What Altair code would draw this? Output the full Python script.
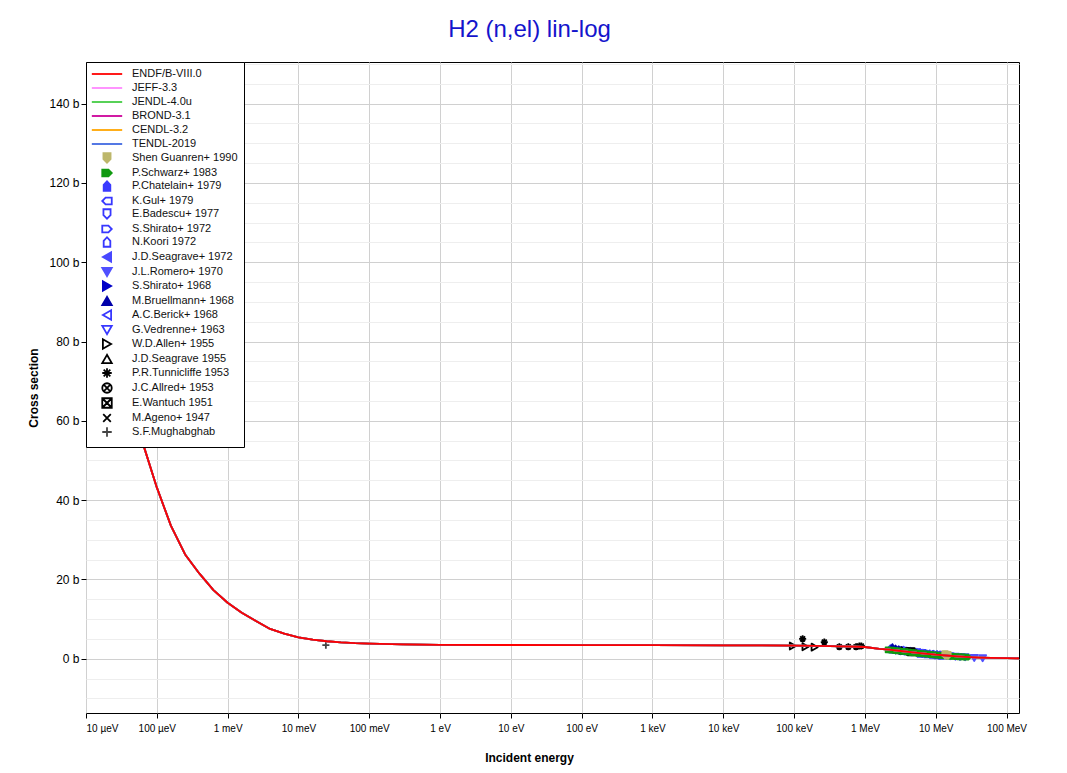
import altair as alt
import pandas as pd

# ---------------- data ----------------
# evaluated curves (energy in eV, cross section in b)
curve_E = [1e-5, 1.585e-5, 2.512e-5, 3.981e-5, 6.31e-5, 1e-4, 1.585e-4, 2.512e-4,
           3.981e-4, 6.31e-4, 1e-3, 1.585e-3, 2.512e-3, 3.981e-3, 6.31e-3, 1e-2,
           1.585e-2, 2.512e-2, 3.981e-2, 6.31e-2, 0.1, 0.3, 1, 10, 100, 1e3, 1e4,
           1e5, 2e5, 5e5, 1e6, 1.6e6, 2.2e6, 3e6, 4.75e6, 7e6, 1e7, 1.4e7, 2e7,
           3e7, 4.2e7, 6e7, 1e8, 1.5e8]
curve_S = [136, 107.5, 86, 68.5, 54.5, 43.2, 33.5, 26.3,
           21.5, 17.3, 14.1, 11.6, 9.5, 7.5, 6.3, 5.4,
           4.8, 4.4, 4.1, 3.9, 3.8, 3.6, 3.5, 3.45, 3.42, 3.4, 3.38,
           3.3, 3.25, 3.1, 2.95, 2.5, 2.27, 2.0, 1.6, 1.3, 1.0, 0.8, 0.6,
           0.4, 0.28, 0.2, 0.12, 0.1]

libraries = ["ENDF/B-VIII.0", "JEFF-3.3", "JENDL-4.0u", "BROND-3.1", "CENDL-3.2", "TENDL-2019"]
lib_colors = ["#ff0000", "#ff88ff", "#44cc44", "#cc0099", "#ffa500", "#4169e1"]

# experimental data sets: name -> (energies eV, cross sections b)
exp_names = ["Shen Guanren+ 1990", "P.Schwarz+ 1983", "P.Chatelain+ 1979", "K.Gul+ 1979",
             "E.Badescu+ 1977", "S.Shirato+ 1972", "N.Koori 1972", "J.D.Seagrave+ 1972",
             "J.L.Romero+ 1970", "S.Shirato+ 1968", "M.Bruellmann+ 1968", "A.C.Berick+ 1968",
             "G.Vedrenne+ 1963", "W.D.Allen+ 1955", "J.D.Seagrave 1955", "P.R.Tunnicliffe 1953",
             "J.C.Allred+ 1953", "E.Wantuch 1951", "M.Ageno+ 1947", "S.F.Mughabghab"]

shen_E = [13.5e6, 14.2e6, 14.9e6]
shen_S = [1.0, 0.9, 0.85]
schwarz_E = [2.2e6, 2.5e6, 2.8e6, 3.1e6, 3.5e6, 3.9e6, 4.3e6, 4.8e6, 5.3e6, 5.9e6, 6.5e6,
             7.2e6, 8.0e6, 8.9e6, 9.9e6, 11.0e6, 12.2e6, 13.5e6, 15.0e6, 16.6e6, 18.4e6,
             20.4e6, 22.6e6, 25.0e6, 28.0e6]
schwarz_S = [2.25, 2.15, 2.05, 1.95, 1.85, 1.75, 1.65, 1.55, 1.45, 1.35, 1.28,
             1.2, 1.12, 1.05, 0.98, 0.9, 0.83, 0.76, 0.7, 0.64, 0.58,
             0.52, 0.47, 0.43, 0.38]
chatelain_E = [6.0e6, 7.5e6, 9.0e6, 10.5e6, 12.0e6]
chatelain_S = [1.35, 1.2, 1.08, 0.95, 0.85]
gul_E = [2.8e6, 3.4e6, 4.2e6, 5.0e6, 6.0e6]
gul_S = [2.2, 2.0, 1.8, 1.6, 1.45]
badescu_E = [3.6e6, 4.5e6, 5.5e6, 6.5e6]
badescu_S = [1.9, 1.7, 1.5, 1.3]
shirato72_E = [2.5e6, 3.2e6, 4.0e6]
shirato72_S = [2.4, 2.1, 1.9]
koori_E = [2.3e6, 2.7e6, 3.3e6]
koori_S = [2.5, 2.3, 2.05]
seagrave72_E = [3.2e6, 4.0e6, 4.9e6, 6.0e6]
seagrave72_S = [2.15, 1.85, 1.62, 1.4]
romero_E = [16e6, 19e6, 22e6, 26e6, 35e6, 46e6]
romero_S = [0.62, 0.52, 0.45, 0.38, 0.2, 0.12]
shirato68_E = [2.6e6, 3.0e6, 3.5e6]
shirato68_S = [2.4, 2.2, 2.0]
bruellmann_E = [2.45e6, 2.7e6, 3.0e6]
bruellmann_S = [2.9, 2.55, 2.35]
berick_E = [5.5e6, 6.5e6, 7.5e6, 8.5e6, 9.5e6, 10.5e6]
berick_S = [1.5, 1.33, 1.2, 1.1, 1.02, 0.95]
vedrenne_E = [14.1e6]
vedrenne_S = [0.75]
allen_E = [9.6e4, 1.45e5, 1.95e5]
allen_S = [3.2, 3.0, 2.9]
seagrave55_E = [3.3e6, 4.6e6]
seagrave55_S = [2.1, 1.7]
tunnicliffe_E = [1.32e5, 2.67e5, 4.35e5, 5.83e5, 7.5e5, 8.35e5, 8.9e5]
tunnicliffe_S = [5.0, 4.2, 3.0, 3.0, 3.0, 3.2, 3.2]
allred_E = [4.0e6]
allred_S = [1.85]
wantuch_E = [4.5e6]
wantuch_S = [1.75]
ageno_E = [5.0e6]
ageno_S = [1.6]
mughabghab_E = [0.0244]
mughabghab_S = [3.4]

exp_data = [(shen_E, shen_S), (schwarz_E, schwarz_S), (chatelain_E, chatelain_S),
            (gul_E, gul_S), (badescu_E, badescu_S), (shirato72_E, shirato72_S),
            (koori_E, koori_S), (seagrave72_E, seagrave72_S), (romero_E, romero_S),
            (shirato68_E, shirato68_S), (bruellmann_E, bruellmann_S), (berick_E, berick_S),
            (vedrenne_E, vedrenne_S), (allen_E, allen_S), (seagrave55_E, seagrave55_S),
            (tunnicliffe_E, tunnicliffe_S), (allred_E, allred_S), (wantuch_E, wantuch_S),
            (ageno_E, ageno_S), (mughabghab_E, mughabghab_S)]
# drawing order: these sets are drawn last (on top of the others)
draw_last = ["P.Schwarz+ 1983", "Shen Guanren+ 1990"]

x_tick_values = [1e-5, 1e-4, 1e-3, 1e-2, 1e-1, 1, 10, 100, 1e3, 1e4, 1e5, 1e6, 1e7, 1e8]
x_tick_labels = ["10 µeV", "100 µeV", "1 meV", "10 meV", "100 meV", "1 eV", "10 eV",
                 "100 eV", "1 keV", "10 keV", "100 keV", "1 MeV", "10 MeV", "100 MeV"]
y_tick_values = list(range(-10, 151, 5))

# ---------------- styles ----------------
BLUE = "#3838ff"
exp_fill = ["#bdb76b", "#109a10", "#3a3aff", "transparent", "transparent", "transparent",
            "transparent", "#4848ff", "#5050ff", "#0000c8", "#0000aa", "transparent",
            "transparent", "transparent", "transparent", "transparent", "transparent",
            "transparent", "transparent", "transparent"]
exp_stroke = ["#bdb76b", "#109a10", "#3a3aff", BLUE, BLUE, BLUE, BLUE, "#4848ff", "#5050ff",
              "#0000c8", "#0000aa", BLUE, BLUE, "#000000", "#000000", "#000000", "#000000",
              "#000000", "#000000", "#444444"]
SHIELD = "M-0.75,-1L0.75,-1L0.75,0.25L0,1L-0.75,0.25Z"
ARROW_R = "M-1,-0.7L0.3,-0.7L1,0L0.3,0.7L-1,0.7Z"
ARROW_L = "M1,-0.7L-0.3,-0.7L-1,0L-0.3,0.7L1,0.7Z"
HOUSE = "M-0.7,1L-0.7,-0.25L0,-1L0.7,-0.25L0.7,1Z"
ASTER = "M0,-1V1M-1,0H1M-0.7,-0.7L0.7,0.7M-0.7,0.7L0.7,-0.7"
OCROSS = "M1,0A1,1 0 1,1 -1,0A1,1 0 1,1 1,0ZM-0.7,-0.7L0.7,0.7M-0.7,0.7L0.7,-0.7"
SQX = "M-1,-1H1V1H-1ZM-1,-1L1,1M-1,1L1,-1"
XMARK = "M-0.8,-0.8L0.8,0.8M-0.8,0.8L0.8,-0.8"
PLUS = "M0,-1V1M-1,0H1"
# legend line sample; the two bare move-tos give it about the height of a marker
LINE = "M-3.2,0H3.2M0,-0.92M0,0.92"
exp_shapes = [SHIELD, ARROW_R, HOUSE, ARROW_L, SHIELD, ARROW_R, HOUSE, "triangle-left",
              "triangle-down", "triangle-right", "triangle-up", "triangle-left",
              "triangle-down", "triangle-right", "triangle-up", ASTER, OCROSS, SQX, XMARK, PLUS]

all_names = libraries + exp_names
fill_range = ["transparent"] * len(libraries) + exp_fill
stroke_range = lib_colors + exp_stroke
shape_range = [LINE] * len(libraries) + exp_shapes
width_range = [1.8] * len(libraries) + [1.0] * len(exp_names)

# ---------------- tables ----------------
line_rows = []
for lib in libraries:
    for e, s in zip(curve_E, curve_S):
        line_rows.append({"series": lib, "E": e, "sigma": s})
lines_df = pd.DataFrame(line_rows)

pt_rows = []
ordered = [n for n in exp_names if n not in draw_last] + draw_last
for name in ordered:
    es, ss = exp_data[exp_names.index(name)]
    for e, s in zip(es, ss):
        pt_rows.append({"series": name, "E": e, "sigma": s})
points_df = pd.DataFrame(pt_rows)

# ---------------- chart ----------------
legend = alt.Legend(title=None, orient="top-left", offset=0, padding=6,
                    fillColor="white", strokeColor="black", symbolSize=90,
                    symbolOffset=9, labelOffset=19, rowPadding=-5.1,
                    labelFontSize=11, labelFont="Liberation Sans", labelColor="#111",
                    labelLimit=300, symbolLimit=0)

sc_fill = alt.Scale(domain=all_names, range=fill_range)
sc_stroke = alt.Scale(domain=all_names, range=stroke_range)
sc_shape = alt.Scale(domain=all_names, range=shape_range)
sc_width = alt.Scale(domain=all_names, range=width_range)

x_enc = alt.X("E:Q", scale=alt.Scale(type="log", domain=[1e-5, 1.5e8], nice=False),
              axis=alt.Axis(values=x_tick_values,
                            labelExpr=str(x_tick_labels) + "[round(log(datum.value)/LN10)+5]",
                            title="Incident energy", titleX=443, titleY=44,
                            titleBaseline="middle", labelFontSize=10, labelPadding=5,
                            tickSize=5, gridColor="#d0d0d0", domain=False,
                            tickColor="#000", labelColor="#000"))
y_enc = alt.Y("sigma:Q", scale=alt.Scale(domain=[-13.7, 150.5], nice=False, zero=False),
              axis=alt.Axis(values=y_tick_values, labelOverlap=False,
                            labelExpr="datum.value % 20 === 0 ? datum.value + ' b' : ''",
                            title="Cross section", titleX=-46, titleY=325.5,
                            tickSize={"condition": {"test": "datum.value % 20 === 0", "value": 5},
                                      "value": 0},
                            gridColor={"condition": {"test": "datum.value % 20 === 0", "value": "#d0d0d0"},
                                       "value": "#eeeeee"},
                            labelFontSize=12, labelPadding=2, domain=False,
                            tickColor="#000", labelColor="#000"))

points = alt.Chart(points_df).mark_point(filled=True, size=50, opacity=1,
                                         strokeJoin="round").encode(
    x=x_enc, y=y_enc,
    fill=alt.Fill("series:N", scale=sc_fill, legend=legend),
    stroke=alt.Stroke("series:N", scale=sc_stroke, legend=legend),
    shape=alt.Shape("series:N", scale=sc_shape, legend=legend),
    strokeWidth=alt.StrokeWidth("series:N", scale=sc_width, legend=legend),
)

other_lines = alt.Chart(lines_df).transform_filter(
    alt.datum.series != "ENDF/B-VIII.0").mark_line(clip=True, strokeJoin="round").encode(
    x=x_enc, y=y_enc,
    stroke=alt.Stroke("series:N", scale=sc_stroke, legend=legend),
    strokeWidth=alt.StrokeWidth("series:N", scale=sc_width, legend=legend),
)
endf_line = alt.Chart(lines_df).transform_filter(
    alt.datum.series == "ENDF/B-VIII.0").mark_line(clip=True, strokeJoin="round").encode(
    x=x_enc, y=y_enc,
    stroke=alt.Stroke("series:N", scale=sc_stroke, legend=legend),
    strokeWidth=alt.StrokeWidth("series:N", scale=sc_width, legend=legend),
)

chart = alt.layer(points, other_lines, endf_line).properties(
    width=933, height=651,
    autosize=alt.AutoSizeParams(type="none"),
    padding={"left": 78, "top": 54, "right": 40, "bottom": 52},
    title=alt.TitleParams("H2 (n,el) lin-log", color="#1414cc", fontSize=24,
                          font="Liberation Sans", fontWeight="normal",
                          anchor="middle", dx=-23, offset=16),
).configure_view(stroke="black", strokeWidth=1).configure_axis(
    labelFont="Liberation Sans", titleFont="Liberation Sans", titleFontSize=12,
    titleFontWeight="bold", titleColor="#000")

chart.save("out.html", embed_options={"renderer": "svg", "actions": False})
